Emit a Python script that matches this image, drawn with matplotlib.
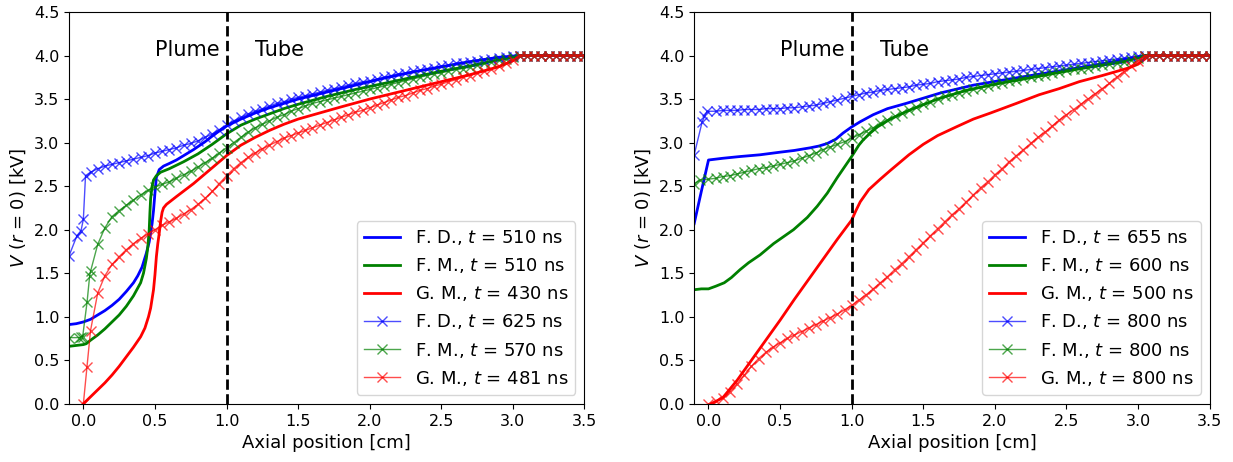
import numpy as np
import matplotlib
matplotlib.use('Agg')
import matplotlib.pyplot as plt

# common x grid for the dense (marker) curves, cm
x_grid = np.round(np.arange(0.05, 3.501, 0.05), 2)

# ---------------- left panel ----------------
# solid curves
L_fd_x = [-0.1, -0.05, 0.0, 0.05, 0.1, 0.15, 0.2, 0.25, 0.3, 0.35, 0.38, 0.41, 0.44, 0.46, 0.48, 0.49,
          0.5, 0.51, 0.53, 0.56, 0.6, 0.65, 0.7, 0.77, 0.85, 0.92, 1.0,
          1.1, 1.2, 1.3, 1.4, 1.5, 1.7, 1.9, 2.1, 2.3, 2.5, 2.7, 2.9, 3.05, 3.5]
L_fd_y = [0.91, 0.92, 0.94, 0.97, 1.02, 1.07, 1.13, 1.20, 1.29, 1.39, 1.47, 1.57, 1.73, 1.86, 2.07, 2.22,
          2.42, 2.60, 2.69, 2.73, 2.76, 2.80, 2.85, 2.92, 3.01, 3.10, 3.19,
          3.27, 3.34, 3.40, 3.45, 3.50, 3.58, 3.66, 3.74, 3.81, 3.87, 3.93, 3.98, 4.0, 4.0]
L_fm_x = [-0.1, -0.05, 0.0, 0.02, 0.05, 0.1, 0.15, 0.2, 0.25, 0.3, 0.35, 0.4, 0.42, 0.44, 0.45, 0.46,
          0.465, 0.47, 0.48, 0.49, 0.51, 0.54, 0.6, 0.65, 0.7, 0.8, 0.9, 1.0,
          1.1, 1.2, 1.3, 1.4, 1.5, 1.7, 1.9, 2.1, 2.3, 2.5, 2.7, 2.9, 3.05, 3.5]
L_fm_y = [0.66, 0.67, 0.68, 0.69, 0.73, 0.79, 0.86, 0.94, 1.02, 1.12, 1.24, 1.39, 1.50, 1.67, 1.80, 2.00,
          2.20, 2.36, 2.50, 2.57, 2.62, 2.66, 2.70, 2.74, 2.78, 2.87, 2.98, 3.10,
          3.20, 3.27, 3.33, 3.39, 3.44, 3.53, 3.61, 3.68, 3.75, 3.82, 3.88, 3.95, 4.0, 4.0]
L_gm_x = [0.0, 0.05, 0.1, 0.15, 0.2, 0.25, 0.3, 0.35, 0.4, 0.43, 0.455, 0.47, 0.49, 0.5, 0.51, 0.52,
          0.53, 0.54, 0.55, 0.56, 0.58, 0.65, 0.77, 0.885, 1.0,
          1.1, 1.2, 1.3, 1.4, 1.5, 1.65, 1.8, 2.0, 2.2, 2.35, 2.5, 2.7, 2.9, 3.0, 3.05, 3.5]
L_gm_y = [0.0, 0.08, 0.16, 0.24, 0.33, 0.43, 0.54, 0.65, 0.77, 0.87, 1.00, 1.10, 1.31, 1.48, 1.69, 1.84,
          1.96, 2.10, 2.20, 2.25, 2.29, 2.38, 2.53, 2.69, 2.85,
          2.97, 3.06, 3.14, 3.21, 3.27, 3.34, 3.41, 3.50, 3.58, 3.64, 3.70, 3.78, 3.87, 3.94, 4.0, 4.0]

# marker curves: first few points, then values on x_grid
L_fd2_head_x = [-0.1, -0.045, -0.016, 0.0, 0.015]
L_fd2_head_y = [1.70, 1.93, 1.99, 2.12, 2.62]
L_fd2_y = [2.66, 2.70, 2.73, 2.75, 2.77, 2.79, 2.81, 2.83, 2.85, 2.88,
           2.90, 2.92, 2.94, 2.97, 2.99, 3.02, 3.06, 3.10, 3.15, 3.20,
           3.25, 3.29, 3.33, 3.36, 3.39, 3.42, 3.45, 3.47, 3.50, 3.52,
           3.54, 3.56, 3.58, 3.60, 3.62, 3.64, 3.66, 3.68, 3.70, 3.71,
           3.73, 3.75, 3.77, 3.79, 3.80, 3.82, 3.83, 3.85, 3.86, 3.88,
           3.89, 3.91, 3.92, 3.93, 3.94, 3.95, 3.96, 3.97, 3.98, 3.99,
           4.0, 4.0, 4.0, 4.0, 4.0, 4.0, 4.0, 4.0, 4.0, 4.0]
L_fm2_head_x = [-0.1, -0.03, -0.015, -0.005, 0.026, 0.044]
L_fm2_head_y = [0.76, 0.76, 0.77, 0.77, 1.17, 1.47]
L_fm2_y = [1.52, 1.83, 2.02, 2.15, 2.22, 2.28, 2.34, 2.40, 2.45, 2.49,
           2.52, 2.55, 2.59, 2.63, 2.67, 2.72, 2.77, 2.82, 2.88, 2.94,
           3.00, 3.06, 3.12, 3.17, 3.21, 3.25, 3.29, 3.32, 3.36, 3.39,
           3.42, 3.45, 3.47, 3.49, 3.51, 3.53, 3.55, 3.57, 3.59, 3.61,
           3.63, 3.65, 3.67, 3.69, 3.71, 3.73, 3.75, 3.77, 3.79, 3.80,
           3.82, 3.84, 3.85, 3.87, 3.89, 3.91, 3.93, 3.95, 3.96, 3.98,
           4.0, 4.0, 4.0, 4.0, 4.0, 4.0, 4.0, 4.0, 4.0, 4.0]
L_gm2_head_x = [0.0, 0.025]
L_gm2_head_y = [0.0, 0.42]
L_gm2_y = [0.84, 1.27, 1.47, 1.60, 1.69, 1.77, 1.84, 1.90, 1.95, 2.00,
           2.05, 2.09, 2.13, 2.18, 2.23, 2.29, 2.36, 2.44, 2.53, 2.62,
           2.70, 2.77, 2.83, 2.88, 2.93, 2.97, 3.01, 3.05, 3.08, 3.11,
           3.14, 3.17, 3.20, 3.23, 3.26, 3.29, 3.32, 3.35, 3.37, 3.40,
           3.43, 3.46, 3.49, 3.52, 3.54, 3.57, 3.60, 3.62, 3.65, 3.67,
           3.70, 3.72, 3.75, 3.77, 3.80, 3.82, 3.85, 3.88, 3.91, 3.95,
           4.0, 4.0, 4.0, 4.0, 4.0, 4.0, 4.0, 4.0, 4.0, 4.0]
L_labels = [r'F. D., $t$ = 510 ns', r'F. M., $t$ = 510 ns', r'G. M., $t$ = 430 ns',
            r'F. D., $t$ = 625 ns', r'F. M., $t$ = 570 ns', r'G. M., $t$ = 481 ns']

# ---------------- right panel ----------------
R_fd_x = [-0.1, -0.05, 0.0, 0.1, 0.22, 0.36, 0.5, 0.6, 0.71, 0.77, 0.83, 0.89, 0.94, 1.0, 1.06, 1.15,
          1.25, 1.38, 1.5, 1.62, 1.85, 2.1, 2.4, 2.7, 3.05, 3.5]
R_fd_y = [2.07, 2.44, 2.80, 2.82, 2.84, 2.86, 2.89, 2.91, 2.94, 2.96, 2.99, 3.04, 3.11, 3.18, 3.24, 3.32,
          3.39, 3.45, 3.51, 3.57, 3.66, 3.73, 3.81, 3.89, 4.0, 4.0]
R_fm_x = [-0.1, -0.05, 0.0, 0.05, 0.11, 0.16, 0.22, 0.28, 0.36, 0.455, 0.594, 0.69, 0.76, 0.83, 0.9,
          0.95, 1.0, 1.05, 1.08, 1.13, 1.18, 1.27, 1.4, 1.6, 1.8, 2.0, 2.3, 2.6, 2.9, 3.05, 3.5]
R_fm_y = [1.31, 1.32, 1.32, 1.35, 1.39, 1.45, 1.54, 1.62, 1.71, 1.84, 2.00, 2.14, 2.27, 2.42, 2.60,
          2.72, 2.84, 2.97, 3.03, 3.11, 3.18, 3.27, 3.37, 3.50, 3.60, 3.67, 3.76, 3.85, 3.93, 4.0, 4.0]
R_gm_x = [0.02, 0.1, 0.2, 0.3, 0.4, 0.5, 0.6, 0.7, 0.8, 0.9, 0.95, 1.0, 1.03, 1.06, 1.12, 1.2,
          1.27, 1.4, 1.5, 1.6, 1.73, 1.85, 1.97, 2.15, 2.31, 2.45, 2.59, 2.75, 2.94, 3.0, 3.08, 3.5]
R_gm_y = [0.0, 0.07, 0.27, 0.50, 0.73, 0.96, 1.20, 1.43, 1.66, 1.89, 2.00, 2.11, 2.22, 2.32, 2.46, 2.58,
          2.68, 2.86, 2.98, 3.08, 3.18, 3.27, 3.34, 3.45, 3.55, 3.62, 3.70, 3.77, 3.86, 3.90, 4.0, 4.0]

R_fd2_head_x = [-0.1, -0.044, -0.028, -0.01]
R_fd2_head_y = [2.86, 3.24, 3.30, 3.36]
R_fd2_y = [3.36, 3.37, 3.37, 3.37, 3.38, 3.38, 3.38, 3.39, 3.39, 3.39,
           3.40, 3.40, 3.41, 3.42, 3.43, 3.45, 3.47, 3.49, 3.51, 3.53,
           3.55, 3.57, 3.58, 3.60, 3.61, 3.62, 3.63, 3.64, 3.66, 3.67,
           3.68, 3.70, 3.71, 3.72, 3.73, 3.75, 3.76, 3.77, 3.78, 3.79,
           3.80, 3.81, 3.82, 3.83, 3.84, 3.85, 3.86, 3.87, 3.88, 3.89,
           3.90, 3.91, 3.92, 3.93, 3.94, 3.95, 3.96, 3.97, 3.98, 3.99,
           4.0, 4.0, 4.0, 4.0, 4.0, 4.0, 4.0, 4.0, 4.0, 4.0]
R_fm2_head_x = [-0.1, -0.056, 0.0]
R_fm2_head_y = [2.53, 2.57, 2.58]
R_fm2_y = [2.59, 2.61, 2.62, 2.64, 2.66, 2.68, 2.70, 2.71, 2.73, 2.75,
           2.77, 2.79, 2.82, 2.85, 2.88, 2.92, 2.95, 2.98, 3.01, 3.05,
           3.09, 3.13, 3.17, 3.22, 3.26, 3.30, 3.34, 3.37, 3.41, 3.44,
           3.47, 3.50, 3.53, 3.55, 3.57, 3.59, 3.61, 3.63, 3.65, 3.67,
           3.69, 3.71, 3.72, 3.74, 3.75, 3.77, 3.78, 3.80, 3.81, 3.83,
           3.84, 3.85, 3.86, 3.88, 3.89, 3.90, 3.91, 3.93, 3.95, 3.97,
           4.0, 4.0, 4.0, 4.0, 4.0, 4.0, 4.0, 4.0, 4.0, 4.0]
R_gm2_head_x = [0.0]
R_gm2_head_y = [0.0]
R_gm2_y = [0.03, 0.07, 0.14, 0.23, 0.33, 0.43, 0.52, 0.59, 0.65, 0.70,
           0.75, 0.79, 0.83, 0.87, 0.91, 0.95, 0.99, 1.03, 1.08, 1.13,
           1.19, 1.25, 1.32, 1.39, 1.46, 1.54, 1.61, 1.69, 1.77, 1.85,
           1.93, 2.01, 2.09, 2.17, 2.24, 2.32, 2.40, 2.48, 2.55, 2.63,
           2.70, 2.78, 2.85, 2.92, 2.99, 3.06, 3.12, 3.19, 3.26, 3.32,
           3.38, 3.44, 3.50, 3.56, 3.62, 3.68, 3.75, 3.81, 3.88, 3.94,
           4.0, 4.0, 4.0, 4.0, 4.0, 4.0, 4.0, 4.0, 4.0, 4.0]
R_labels = [r'F. D., $t$ = 655 ns', r'F. M., $t$ = 600 ns', r'G. M., $t$ = 500 ns',
            r'F. D., $t$ = 800 ns', r'F. M., $t$ = 800 ns', r'G. M., $t$ = 800 ns']

colors = ['b', 'g', 'r']


def draw_panel(ax, solid, marked, labels):
  for (x, y), c, lab in zip(solid, colors, labels[:3]):
    ax.plot(x, y, '-', color=c, lw=2, label=lab)
  for (hx, hy, y), c, lab in zip(marked, colors, labels[3:]):
    xx = np.concatenate([hx, x_grid])
    yy = np.concatenate([hy, y])
    ax.plot(xx, yy, '-x', color=c, lw=1, ms=7, mew=1, alpha=0.7, label=lab)
  ax.axvline(1.0, color='k', ls='--', lw=2)
  ax.text(0.5, 4.0, 'Plume', fontsize=15)
  ax.text(1.2, 4.0, 'Tube', fontsize=15)
  ax.set_xlim(-0.1, 3.5)
  ax.set_ylim(0, 4.5)
  ax.set_xticks(np.arange(0, 3.51, 0.5))
  ax.set_yticks(np.arange(0, 4.51, 0.5))
  ax.tick_params(labelsize=11.5)
  ax.set_xlabel('Axial position [cm]', fontsize=13)
  ax.set_ylabel(r'$V$ ($r$ = 0) [kV]', fontsize=13)
  ax.legend(loc='lower right', fontsize=13, numpoints=1)


fig = plt.figure(figsize=(12.33, 4.62), dpi=100)
ax1 = fig.add_axes([0.056, 0.126, 0.418, 0.848])
ax2 = fig.add_axes([0.563, 0.126, 0.418, 0.848])

draw_panel(ax1,
           [(L_fd_x, L_fd_y), (L_fm_x, L_fm_y), (L_gm_x, L_gm_y)],
           [(L_fd2_head_x, L_fd2_head_y, L_fd2_y), (L_fm2_head_x, L_fm2_head_y, L_fm2_y),
            (L_gm2_head_x, L_gm2_head_y, L_gm2_y)],
           L_labels)
draw_panel(ax2,
           [(R_fd_x, R_fd_y), (R_fm_x, R_fm_y), (R_gm_x, R_gm_y)],
           [(R_fd2_head_x, R_fd2_head_y, R_fd2_y), (R_fm2_head_x, R_fm2_head_y, R_fm2_y),
            (R_gm2_head_x, R_gm2_head_y, R_gm2_y)],
           R_labels)

plt.savefig('out.png', dpi=100)
